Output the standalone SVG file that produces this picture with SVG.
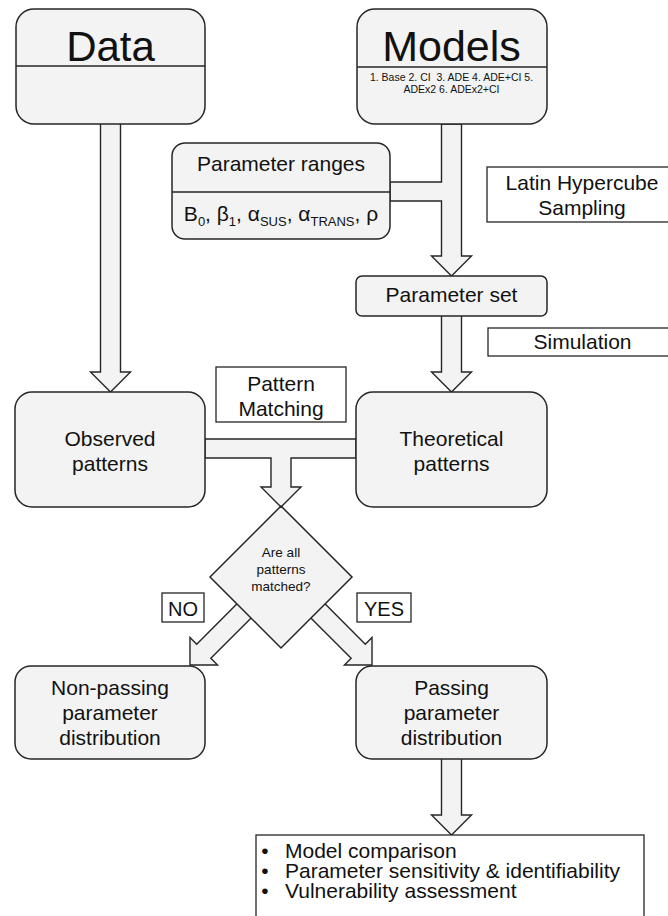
<svg xmlns="http://www.w3.org/2000/svg" width="668" height="916" viewBox="0 0 668 916">
<style>
text{font-family:"Liberation Sans",Arial,sans-serif;fill:#111;text-anchor:middle}
.node{fill:#f3f3f3;stroke:#262626;stroke-width:1.5}
.lbl{fill:#fff;stroke:#262626;stroke-width:1.3}
.conn{fill:#f3f3f3;stroke:#262626;stroke-width:1.4;stroke-linejoin:miter}
.t21{font-size:21px}
</style>
<rect width="668" height="916" fill="#fff"/>
<g id="connectors">
<path class="conn" d="M100.5,124 V372 H90.5 L110.5,392 L130.5,372 H120.5 V124"/>
<path class="conn" d="M461.5,124 V256 H471.5 L451.5,276 L431.5,256 H441.5 V201 H390 V182 H441.5 V124 Z"/>
<path class="conn" d="M461.5,316 V372 H471.5 L451.5,392 L431.5,372 H441.5 V316"/>
<path class="conn" d="M205,439 H356 V458 H291 V487 H301 L281,507 L261,487 H271 V458 H205 Z"/>
<path class="conn" transform="translate(244,611) rotate(135)" d="M-4,-10 H56.9 V-19.5 L76.4,0 L56.9,19.5 V10 H-4 Z"/>
<path class="conn" transform="translate(318,611) rotate(45)" d="M-4,-10 H56.9 V-19.5 L76.4,0 L56.9,19.5 V10 H-4 Z"/>
<path class="conn" d="M461.5,759 V815 H471.5 L451.5,835 L431.5,815 H441.5 V759"/>
</g>
<g id="data">
<rect class="node" x="16" y="9" width="189" height="115" rx="18"/>
<line x1="16" y1="66" x2="205" y2="66" stroke="#262626" stroke-width="1.5"/>
<text x="110.5" y="61" font-size="42">Data</text>
</g>
<g id="models">
<rect class="node" x="357" y="9" width="190" height="115" rx="18"/>
<line x1="357" y1="67" x2="547" y2="67" stroke="#262626" stroke-width="1.5"/>
<text x="451.5" y="61" font-size="43">Models</text>
<text x="451.5" y="81" font-size="10.5" style="white-space:pre">1. Base 2. CI  3. ADE 4. ADE+CI 5.</text>
<text x="451.5" y="93" font-size="10.5">ADEx2 6. ADEx2+CI</text>
</g>
<g id="parameter-ranges">
<rect class="node" x="172" y="143" width="218" height="96" rx="13"/>
<line x1="172" y1="192" x2="390" y2="192" stroke="#262626" stroke-width="1.5"/>
<text x="281" y="171" class="t21">Parameter ranges</text>
<text x="281" y="221" class="t21">B<tspan font-size="13" dy="5">0</tspan><tspan dy="-5">, β</tspan><tspan font-size="13" dy="5">1</tspan><tspan dy="-5">, α</tspan><tspan font-size="13" dy="5">SUS</tspan><tspan dy="-5">, α</tspan><tspan font-size="13" dy="5">TRANS</tspan><tspan dy="-5">, ρ</tspan></text>
</g>
<g id="latin-hypercube">
<rect class="lbl" x="487" y="167" width="190" height="55"/>
<text x="582" y="190" class="t21">Latin Hypercube</text>
<text x="582" y="215" class="t21">Sampling</text>
</g>
<g id="parameter-set">
<rect class="node" x="356" y="276" width="191" height="40" rx="6"/>
<text x="451.5" y="302" class="t21">Parameter set</text>
</g>
<g id="simulation">
<rect class="lbl" x="488" y="328" width="190" height="28"/>
<text x="582.5" y="349" class="t21">Simulation</text>
</g>
<g id="pattern-matching">
<rect class="lbl" x="216" y="367" width="130" height="55"/>
<text x="281" y="391" class="t21">Pattern</text>
<text x="281" y="416" class="t21">Matching</text>
</g>
<g id="observed">
<rect class="node" x="15" y="392" width="190" height="115" rx="17"/>
<text x="110" y="446" class="t21">Observed</text>
<text x="110" y="471" class="t21">patterns</text>
</g>
<g id="theoretical">
<rect class="node" x="356" y="392" width="191" height="115" rx="17"/>
<text x="451.5" y="446" class="t21">Theoretical</text>
<text x="451.5" y="471" class="t21">patterns</text>
</g>
<g id="decision">
<polygon class="node" points="281,506 352,577 281,648 210,577"/>
<text x="281" y="557" font-size="13.5">Are all</text>
<text x="281" y="574" font-size="13.5">patterns</text>
<text x="281" y="590.5" font-size="13.5">matched?</text>
</g>
<g id="no-label">
<rect class="lbl" x="162" y="593" width="42" height="29"/>
<text x="183" y="616" font-size="20">NO</text>
</g>
<g id="yes-label">
<rect class="lbl" x="357" y="593" width="54" height="29"/>
<text x="384" y="616" font-size="20">YES</text>
</g>
<g id="non-passing">
<rect class="node" x="15" y="666" width="190" height="93" rx="16"/>
<text x="110" y="695" class="t21">Non-passing</text>
<text x="110" y="720" class="t21">parameter</text>
<text x="110" y="745" class="t21">distribution</text>
</g>
<g id="passing">
<rect class="node" x="356" y="666" width="191" height="93" rx="16"/>
<text x="451.5" y="695" class="t21">Passing</text>
<text x="451.5" y="720" class="t21">parameter</text>
<text x="451.5" y="745" class="t21">distribution</text>
</g>
<g id="outcomes">
<rect class="lbl" x="256" y="835" width="388" height="100"/>
<text x="265" y="858" class="t21">•</text>
<text x="285" y="858" class="t21" style="text-anchor:start">Model comparison</text>
<text x="265" y="878" class="t21">•</text>
<text x="285" y="878" class="t21" style="text-anchor:start">Parameter sensitivity &amp; identifiability</text>
<text x="265" y="898" class="t21">•</text>
<text x="285" y="898" class="t21" style="text-anchor:start">Vulnerability assessment</text>
</g>
</svg>
